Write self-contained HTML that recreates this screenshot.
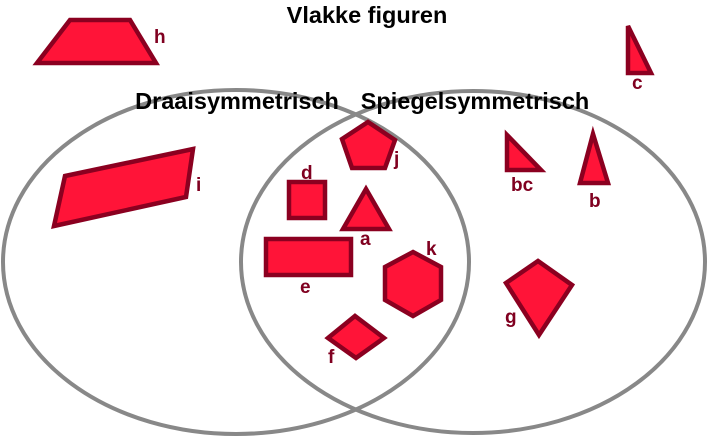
<!DOCTYPE html>
<html><head><style>body{margin:0;background:#fff}svg{display:block}</style></head><body>
<svg width="711" height="440" xmlns="http://www.w3.org/2000/svg" font-family="Liberation Sans, sans-serif" font-weight="bold">
<g fill="none" stroke="#888" stroke-width="4">
<ellipse cx="236" cy="262" rx="233" ry="172"/>
<ellipse cx="473" cy="262" rx="232" ry="171"/>
</g>
<g fill="#ff1438" stroke="#8b0020" stroke-width="4.5" stroke-linejoin="miter">
<polygon points="37,63 70,20 130,20 156,63"/>
<polygon points="628,26 628,73 651,73"/>
<polygon points="65,176 193,149 186,197 54,226"/>
<polygon points="368,122 395,140 385,168 352,168 342,139"/>
<rect x="289" y="182" width="36" height="36"/>
<polygon points="366,189 343,229 389,229"/>
<rect x="266" y="239" width="85" height="36"/>
<polygon points="413,252 441,267 441,300 413,316 385,300 385,267"/>
<polygon points="328,338 355,316 384,338 356,358"/>
<polygon points="507,135 507,170 541,170"/>
<polygon points="506,283 538,261 572,285 539,335"/>
<polygon points="593,134 580,183 608,183"/>
</g>
<g fill="#000" font-size="23.5">
<text x="367" y="23" text-anchor="middle">Vlakke figuren</text>
<text x="237" y="109" text-anchor="middle">Draaisymmetrisch</text>
<text x="475" y="109" text-anchor="middle">Spiegelsymmetrisch</text>
</g>
<g fill="#800020" font-size="19">
<text x="154" y="43">h</text>
<text x="632" y="89">c</text>
<text x="196" y="191">i</text>
<text x="394" y="165">j</text>
<text x="301" y="179">d</text>
<text x="360" y="245">a</text>
<text x="300" y="293">e</text>
<text x="426" y="255">k</text>
<text x="328" y="363">f</text>
<text x="511" y="191">bc</text>
<text x="589" y="207">b</text>
<text x="505" y="323">g</text>
</g>
</svg>
</body></html>
